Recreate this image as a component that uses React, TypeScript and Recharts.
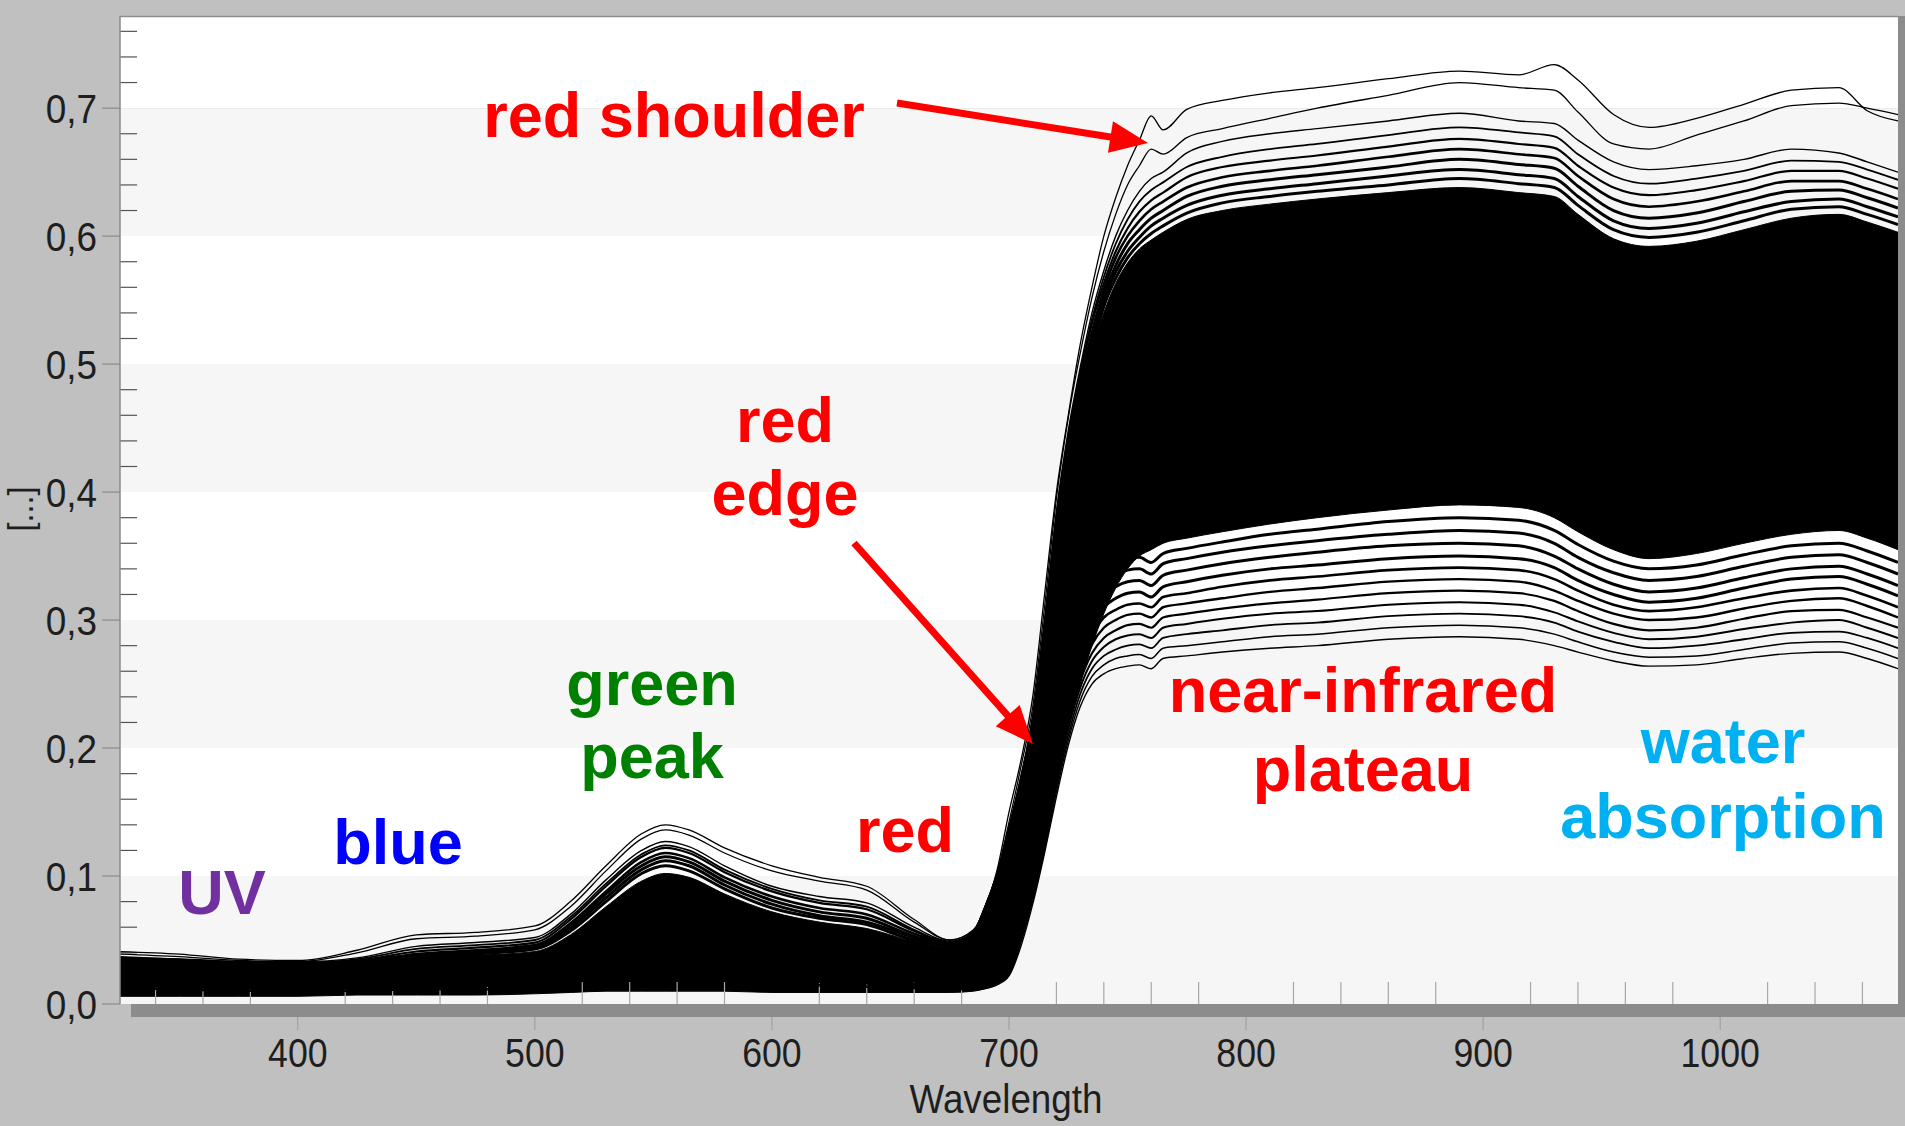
import React from 'react';
import { ComposedChart, Area, Line, XAxis, YAxis, ReferenceArea, ReferenceLine } from 'recharts';

// Wavelength grid (nm)
const wavelengths = [325, 350, 375, 400, 425, 450, 475, 500, 515, 530, 545, 555, 565, 580, 600, 620, 640, 660, 675, 685, 690, 695, 700, 705, 710, 715, 720, 725, 730, 735, 740, 745, 750, 755, 760, 765, 775, 790, 810, 830, 860, 890, 915, 930, 940, 955, 970, 990, 1010, 1030, 1050, 1062, 1075];

// Dense core of the spectra cloud (lower / upper bound)
const coreLow = [0.006, 0.006, 0.006, 0.006, 0.007, 0.007, 0.007, 0.008, 0.009, 0.010, 0.010, 0.010, 0.010, 0.010, 0.009, 0.009, 0.009, 0.009, 0.009,
  0.010, 0.012, 0.016, 0.025, 0.055, 0.088, 0.13, 0.175, 0.215, 0.25, 0.28, 0.305, 0.325, 0.34, 0.35, 0.355,
  0.36, 0.364, 0.369, 0.375, 0.38, 0.386, 0.39, 0.388, 0.38, 0.369, 0.355, 0.348, 0.352, 0.36, 0.367, 0.37, 0.364, 0.355];
const coreHigh = [0.033, 0.032, 0.030, 0.030, 0.032, 0.036, 0.038, 0.041, 0.054, 0.076, 0.096, 0.102, 0.099, 0.086, 0.072, 0.064, 0.059, 0.049, 0.045,
  0.055, 0.075, 0.10, 0.13, 0.165, 0.21, 0.275, 0.35, 0.42, 0.47, 0.51, 0.54, 0.563, 0.579, 0.59, 0.597,
  0.603, 0.613, 0.62, 0.625, 0.629, 0.634, 0.638, 0.634, 0.631, 0.617, 0.598, 0.592, 0.596, 0.605, 0.614, 0.617, 0.611, 0.603];

// Individual spectra above the core (brightest first)
const spectrumU1 = [0.041, 0.039, 0.035, 0.034, 0.042, 0.054, 0.056, 0.061, 0.080, 0.108, 0.133, 0.140, 0.136, 0.122, 0.108, 0.099, 0.092, 0.066, 0.050,
  0.058, 0.075, 0.105, 0.15, 0.19, 0.24, 0.32, 0.40, 0.46, 0.515, 0.56, 0.60, 0.63, 0.655, 0.675, 0.694,
  0.683, 0.699, 0.706, 0.712, 0.716, 0.723, 0.729, 0.726, 0.734, 0.722, 0.695, 0.685, 0.692, 0.703, 0.714, 0.716, 0.698, 0.69];
const spectrumU2 = [0.039, 0.037, 0.034, 0.033, 0.040, 0.051, 0.053, 0.058, 0.076, 0.104, 0.129, 0.136, 0.132, 0.118, 0.104, 0.096, 0.089, 0.064, 0.050,
  0.057, 0.074, 0.103, 0.142, 0.185, 0.232, 0.31, 0.395, 0.458, 0.508, 0.552, 0.588, 0.617, 0.64, 0.655, 0.668,
  0.664, 0.677, 0.684, 0.692, 0.70, 0.71, 0.72, 0.716, 0.714, 0.697, 0.672, 0.668, 0.679, 0.69, 0.702, 0.704, 0.70, 0.695];
const spectrumU3 = [0.037, 0.035, 0.033, 0.033, 0.036, 0.045, 0.048, 0.052, 0.070, 0.097, 0.120, 0.127, 0.123, 0.108, 0.092, 0.084, 0.079, 0.060, 0.049,
  0.056, 0.073, 0.10, 0.138, 0.178, 0.225, 0.30, 0.385, 0.448, 0.497, 0.54, 0.573, 0.60, 0.62, 0.635, 0.645,
  0.65, 0.665, 0.674, 0.68, 0.684, 0.69, 0.696, 0.69, 0.688, 0.675, 0.658, 0.652, 0.655, 0.66, 0.668, 0.665, 0.658, 0.65];
const spectrumU4 = [0.036, 0.035, 0.033, 0.032, 0.035, 0.043, 0.046, 0.050, 0.068, 0.094, 0.117, 0.124, 0.120, 0.105, 0.090, 0.081, 0.076, 0.058, 0.048,
  0.056, 0.074, 0.10, 0.137, 0.176, 0.223, 0.297, 0.381, 0.444, 0.493, 0.535, 0.568, 0.594, 0.613, 0.627, 0.636,
  0.642, 0.654, 0.662, 0.668, 0.672, 0.679, 0.685, 0.681, 0.678, 0.664, 0.647, 0.641, 0.645, 0.651, 0.659, 0.658, 0.652, 0.644];
const spectrumU5 = [0.036, 0.034, 0.032, 0.032, 0.034, 0.041, 0.044, 0.048, 0.066, 0.092, 0.115, 0.122, 0.118, 0.103, 0.088, 0.079, 0.074, 0.057, 0.048,
  0.056, 0.074, 0.10, 0.136, 0.175, 0.222, 0.295, 0.378, 0.44, 0.49, 0.532, 0.563, 0.588, 0.606, 0.619, 0.628,
  0.634, 0.646, 0.654, 0.659, 0.663, 0.67, 0.676, 0.672, 0.669, 0.655, 0.638, 0.632, 0.636, 0.643, 0.651, 0.651, 0.645, 0.637];
const spectrumU6 = [0.035, 0.034, 0.032, 0.031, 0.033, 0.039, 0.042, 0.046, 0.063, 0.088, 0.111, 0.118, 0.114, 0.099, 0.084, 0.075, 0.070, 0.055, 0.047,
  0.056, 0.075, 0.10, 0.134, 0.172, 0.218, 0.29, 0.37, 0.434, 0.484, 0.525, 0.558, 0.583, 0.60, 0.612, 0.621,
  0.627, 0.638, 0.646, 0.651, 0.655, 0.662, 0.668, 0.664, 0.661, 0.647, 0.629, 0.623, 0.627, 0.635, 0.643, 0.643, 0.637, 0.629];
const spectrumU7 = [0.035, 0.033, 0.031, 0.031, 0.033, 0.038, 0.041, 0.045, 0.061, 0.086, 0.108, 0.115, 0.111, 0.096, 0.081, 0.072, 0.067, 0.053, 0.046,
  0.055, 0.075, 0.10, 0.132, 0.17, 0.215, 0.285, 0.362, 0.428, 0.478, 0.518, 0.553, 0.577, 0.594, 0.605, 0.614,
  0.62, 0.631, 0.639, 0.644, 0.648, 0.654, 0.66, 0.656, 0.653, 0.639, 0.62, 0.614, 0.618, 0.627, 0.635, 0.636, 0.63, 0.622];
const spectrumU8 = [0.034, 0.033, 0.031, 0.030, 0.032, 0.037, 0.040, 0.044, 0.059, 0.083, 0.105, 0.112, 0.108, 0.093, 0.078, 0.069, 0.064, 0.052, 0.046,
  0.055, 0.075, 0.10, 0.131, 0.168, 0.213, 0.28, 0.356, 0.424, 0.474, 0.514, 0.549, 0.572, 0.588, 0.599, 0.608,
  0.614, 0.624, 0.632, 0.637, 0.641, 0.647, 0.652, 0.648, 0.645, 0.631, 0.612, 0.606, 0.61, 0.619, 0.627, 0.629, 0.623, 0.615];
const spectrumU9 = [0.034, 0.032, 0.030, 0.030, 0.032, 0.036, 0.039, 0.043, 0.057, 0.080, 0.102, 0.108, 0.104, 0.090, 0.075, 0.067, 0.062, 0.050, 0.046,
  0.055, 0.075, 0.10, 0.13, 0.166, 0.211, 0.277, 0.352, 0.421, 0.471, 0.511, 0.545, 0.567, 0.583, 0.594, 0.602,
  0.608, 0.618, 0.626, 0.631, 0.635, 0.64, 0.645, 0.641, 0.638, 0.624, 0.605, 0.599, 0.603, 0.612, 0.621, 0.623, 0.617, 0.609];

// Individual spectra below the core (darkest first)
const spectrumL1 = [0.012, 0.011, 0.010, 0.010, 0.010, 0.011, 0.011, 0.012, 0.016, 0.021, 0.024, 0.025, 0.024, 0.020, 0.016, 0.014, 0.013, 0.012, 0.011,
  0.011, 0.012, 0.015, 0.022, 0.045, 0.078, 0.118, 0.162, 0.202, 0.232, 0.25, 0.258, 0.262, 0.264, 0.265, 0.262,
  0.27, 0.272, 0.275, 0.278, 0.28, 0.285, 0.287, 0.285, 0.28, 0.275, 0.268, 0.264, 0.265, 0.27, 0.274, 0.275, 0.27, 0.262];
const spectrumL2 = [0.013, 0.012, 0.011, 0.011, 0.011, 0.012, 0.012, 0.013, 0.017, 0.023, 0.027, 0.029, 0.027, 0.023, 0.018, 0.015, 0.014, 0.013, 0.012,
  0.012, 0.013, 0.016, 0.023, 0.048, 0.081, 0.121, 0.166, 0.206, 0.237, 0.256, 0.265, 0.27, 0.272, 0.273, 0.27,
  0.278, 0.28, 0.283, 0.287, 0.289, 0.294, 0.296, 0.294, 0.289, 0.283, 0.275, 0.271, 0.272, 0.277, 0.282, 0.283, 0.278, 0.27];
const spectrumL3 = [0.014, 0.013, 0.012, 0.012, 0.012, 0.013, 0.014, 0.015, 0.019, 0.026, 0.031, 0.033, 0.031, 0.026, 0.020, 0.017, 0.016, 0.014, 0.013,
  0.013, 0.014, 0.017, 0.024, 0.05, 0.084, 0.125, 0.17, 0.21, 0.242, 0.262, 0.272, 0.277, 0.28, 0.281, 0.278,
  0.286, 0.289, 0.292, 0.296, 0.298, 0.303, 0.305, 0.303, 0.298, 0.291, 0.283, 0.278, 0.28, 0.285, 0.29, 0.291, 0.286, 0.278];
const spectrumL4 = [0.015, 0.014, 0.013, 0.013, 0.013, 0.014, 0.015, 0.016, 0.021, 0.029, 0.035, 0.037, 0.035, 0.029, 0.022, 0.019, 0.017, 0.015, 0.014,
  0.014, 0.015, 0.018, 0.025, 0.052, 0.087, 0.128, 0.174, 0.215, 0.247, 0.268, 0.279, 0.285, 0.288, 0.289, 0.286,
  0.294, 0.297, 0.301, 0.305, 0.307, 0.312, 0.314, 0.312, 0.306, 0.299, 0.29, 0.285, 0.287, 0.293, 0.298, 0.30, 0.294, 0.286];
const spectrumL5 = [0.016, 0.015, 0.014, 0.014, 0.014, 0.015, 0.016, 0.017, 0.023, 0.032, 0.039, 0.041, 0.039, 0.032, 0.025, 0.021, 0.019, 0.016, 0.015,
  0.015, 0.016, 0.019, 0.026, 0.054, 0.09, 0.132, 0.178, 0.22, 0.252, 0.274, 0.286, 0.292, 0.296, 0.297, 0.294,
  0.302, 0.305, 0.309, 0.313, 0.316, 0.321, 0.323, 0.321, 0.315, 0.307, 0.297, 0.292, 0.294, 0.301, 0.307, 0.308, 0.302, 0.294];
const spectrumL6 = [0.017, 0.016, 0.015, 0.015, 0.015, 0.016, 0.017, 0.018, 0.025, 0.035, 0.043, 0.045, 0.043, 0.035, 0.027, 0.023, 0.021, 0.018, 0.016,
  0.016, 0.017, 0.02, 0.027, 0.056, 0.093, 0.136, 0.182, 0.225, 0.258, 0.281, 0.294, 0.30, 0.304, 0.305, 0.302,
  0.31, 0.313, 0.317, 0.322, 0.325, 0.33, 0.332, 0.33, 0.323, 0.315, 0.305, 0.30, 0.302, 0.309, 0.315, 0.317, 0.311, 0.302];
const spectrumL7 = [0.018, 0.017, 0.016, 0.016, 0.016, 0.018, 0.019, 0.020, 0.027, 0.038, 0.047, 0.049, 0.047, 0.038, 0.030, 0.025, 0.022, 0.019, 0.017,
  0.017, 0.018, 0.021, 0.028, 0.058, 0.096, 0.14, 0.186, 0.23, 0.264, 0.288, 0.302, 0.308, 0.312, 0.313, 0.31,
  0.318, 0.321, 0.326, 0.331, 0.334, 0.339, 0.341, 0.339, 0.332, 0.323, 0.312, 0.307, 0.31, 0.317, 0.323, 0.325, 0.319, 0.31];
const spectrumL8 = [0.019, 0.018, 0.017, 0.017, 0.017, 0.019, 0.020, 0.021, 0.029, 0.041, 0.051, 0.054, 0.051, 0.042, 0.032, 0.027, 0.024, 0.020, 0.018,
  0.018, 0.019, 0.022, 0.029, 0.06, 0.099, 0.144, 0.191, 0.236, 0.27, 0.295, 0.31, 0.317, 0.321, 0.322, 0.318,
  0.326, 0.33, 0.335, 0.34, 0.343, 0.348, 0.35, 0.348, 0.341, 0.331, 0.32, 0.314, 0.317, 0.325, 0.332, 0.334, 0.328, 0.319];
const spectrumL9 = [0.020, 0.019, 0.018, 0.018, 0.019, 0.021, 0.022, 0.023, 0.031, 0.044, 0.055, 0.058, 0.055, 0.046, 0.035, 0.029, 0.026, 0.021, 0.019,
  0.019, 0.02, 0.023, 0.03, 0.063, 0.102, 0.148, 0.196, 0.242, 0.277, 0.303, 0.318, 0.326, 0.33, 0.331, 0.327,
  0.335, 0.339, 0.344, 0.349, 0.353, 0.358, 0.36, 0.358, 0.35, 0.34, 0.328, 0.322, 0.325, 0.333, 0.34, 0.342, 0.336, 0.327];
const spectrumL10 = [0.022, 0.021, 0.020, 0.020, 0.021, 0.023, 0.024, 0.026, 0.035, 0.050, 0.062, 0.065, 0.062, 0.052, 0.040, 0.033, 0.029, 0.023, 0.021,
  0.02, 0.021, 0.024, 0.032, 0.066, 0.106, 0.153, 0.202, 0.248, 0.284, 0.311, 0.327, 0.335, 0.339, 0.34, 0.336,
  0.344, 0.348, 0.353, 0.358, 0.362, 0.367, 0.37, 0.368, 0.36, 0.349, 0.337, 0.331, 0.334, 0.342, 0.349, 0.351, 0.345, 0.336];
const spectrumL11 = [0.024, 0.023, 0.022, 0.022, 0.023, 0.025, 0.027, 0.029, 0.039, 0.056, 0.070, 0.074, 0.070, 0.059, 0.046, 0.038, 0.033, 0.026, 0.023,
  0.021, 0.022, 0.025, 0.033, 0.069, 0.11, 0.158, 0.208, 0.255, 0.292, 0.319, 0.336, 0.344, 0.348, 0.349, 0.345,
  0.352, 0.356, 0.361, 0.367, 0.371, 0.377, 0.38, 0.378, 0.37, 0.359, 0.346, 0.34, 0.343, 0.351, 0.358, 0.36, 0.354, 0.345];

// Axis ticks
const xMajorTicks = [400, 500, 600, 700, 800, 900, 1000];
const xMinorTicks = [340, 360, 380, 420, 440, 460, 480, 520, 540, 560, 580, 620, 640, 660, 680, 720, 740, 760, 780, 820, 840, 860, 880, 920, 940, 960, 980, 1020, 1040, 1060];
const yMajorTicks = [0, 0.1, 0.2, 0.3, 0.4, 0.5, 0.6, 0.7];
const yMinorTicks = [0.02, 0.04, 0.06, 0.08, 0.12, 0.14, 0.16, 0.18, 0.22, 0.24, 0.26, 0.28, 0.32, 0.34, 0.36, 0.38, 0.42, 0.44, 0.46, 0.48, 0.52, 0.54, 0.56, 0.58, 0.62, 0.64, 0.66, 0.68, 0.72, 0.74, 0.76];
const shadedBands = [[0, 0.1], [0.2, 0.3], [0.4, 0.5], [0.6, 0.7]];

// [key, values, stroke width]
const spectra: [string, number[], number][] = [
  ['l11', spectrumL11, 3], ['l10', spectrumL10, 3], ['l9', spectrumL9, 3], ['l8', spectrumL8, 3], ['l7', spectrumL7, 2.6],
  ['l6', spectrumL6, 2.4], ['l5', spectrumL5, 2.2], ['l4', spectrumL4, 2], ['l3', spectrumL3, 1.8], ['l2', spectrumL2, 1.5], ['l1', spectrumL1, 1.4],
  ['u9', spectrumU9, 3], ['u8', spectrumU8, 3], ['u7', spectrumU7, 3], ['u6', spectrumU6, 2.6], ['u5', spectrumU5, 2.2],
  ['u4', spectrumU4, 1.8], ['u3', spectrumU3, 1.4], ['u2', spectrumU2, 1.3], ['u1', spectrumU1, 1.3],
];

const data = wavelengths.map((wl, i) => {
  const row: Record<string, number> = { wl, low: coreLow[i], high: coreHigh[i] };
  spectra.forEach(([k, arr]) => { row[k] = arr[i]; });
  return row;
});

const X_DOMAIN: [number, number] = [325, 1075];
const Y_DOMAIN: [number, number] = [0, 0.772];
const AXIS_FONT = "'Liberation Sans', Arial, sans-serif";
const NOTE_FONT = "'Liberation Sans', Arial, sans-serif";
const AXIS_COLOR = '#1e1e1e';

function XTick(props: any) {
  const { x, y, payload } = props;
  return (
    <text transform={`translate(${x},${y}) scale(0.87,1)`} textAnchor="middle" dy="0.71em" fontFamily={AXIS_FONT} fontSize={41} fill={AXIS_COLOR}>
      {payload.value}
    </text>
  );
}

function YTick(props: any) {
  const { x, y, payload } = props;
  const label = Number(payload.value).toFixed(1).replace('.', ',');
  return (
    <text transform={`translate(${x},${y}) scale(0.9,1)`} textAnchor="end" dy="0.355em" fontFamily={AXIS_FONT} fontSize={41} fill={AXIS_COLOR}>
      {label}
    </text>
  );
}

function arrowPoints(x1: number, y1: number, x2: number, y2: number, shaft = 7, headLen = 38, headW = 16) {
  const dx = x2 - x1, dy = y2 - y1;
  const L = Math.hypot(dx, dy);
  const ux = dx / L, uy = dy / L;
  const nx = -uy, ny = ux;
  const bx = x2 - ux * headLen, by = y2 - uy * headLen;
  const s = shaft / 2;
  const pts = [
    [x1 + nx * s, y1 + ny * s],
    [bx + nx * s, by + ny * s],
    [bx + nx * headW, by + ny * headW],
    [x2, y2],
    [bx - nx * headW, by - ny * headW],
    [bx - nx * s, by - ny * s],
    [x1 - nx * s, y1 - ny * s],
  ];
  return pts.map((p) => p.join(',')).join(' ');
}

const notes = [
  { text: 'red shoulder', x: 674, y: 137, color: '#ff0000' },
  { text: 'red', x: 785, y: 442, color: '#ff0000' },
  { text: 'edge', x: 785, y: 515, color: '#ff0000' },
  { text: 'green', x: 652, y: 705, color: '#008000' },
  { text: 'peak', x: 652, y: 778, color: '#008000' },
  { text: 'red', x: 905, y: 852, color: '#ff0000' },
  { text: 'blue', x: 398, y: 864, color: '#0000ff' },
  { text: 'UV', x: 222, y: 914, color: '#7030a0' },
  { text: 'near-infrared', x: 1363, y: 712, color: '#ff0000' },
  { text: 'plateau', x: 1363, y: 791, color: '#ff0000' },
  { text: 'water', x: 1723, y: 763, color: '#00b0f0' },
  { text: 'absorption', x: 1723, y: 838, color: '#00b0f0' },
];

export default function App() {
  return (
    <div style={{ position: 'fixed', left: 0, top: 0, width: 1905, height: 1126, background: '#c0c0c0', overflow: 'hidden' }}>
      <ComposedChart
        width={1905}
        height={1126}
        data={data}
        margin={{ top: 16, right: 7, bottom: 0, left: 0 }}
      >
        <XAxis
          dataKey="wl"
          type="number"
          domain={X_DOMAIN}
          ticks={xMajorTicks}
          allowDataOverflow
          height={122}
          tickSize={26}
          tickMargin={8}
          axisLine={false}
          tickLine={{ stroke: '#9a9a9a', strokeWidth: 1 }}
          tick={<XTick />}
        />
        <YAxis
          type="number"
          domain={Y_DOMAIN}
          ticks={yMajorTicks}
          allowDataOverflow
          width={120}
          tickSize={18}
          tickMargin={5}
          axisLine={{ stroke: '#8a8a8a', strokeWidth: 1.5 }}
          tickLine={{ stroke: '#808080', strokeWidth: 1 }}
          tick={<YTick />}
        />
        <ReferenceArea x1={325} x2={1075} y1={0.7} y2={0.772} fill="#ffffff" fillOpacity={1} stroke="none" ifOverflow="visible" />
        {shadedBands.map(([a, b]) => (
          <ReferenceArea key={`band-${a}`} x1={325} x2={1075} y1={a} y2={b} fill="#f6f6f6" fillOpacity={1} stroke="none" ifOverflow="visible" />
        ))}
        {[[0.1, 0.2], [0.3, 0.4], [0.5, 0.6]].map(([a, b]) => (
          <ReferenceArea key={`wband-${a}`} x1={325} x2={1075} y1={a} y2={b} fill="#ffffff" fillOpacity={1} stroke="none" ifOverflow="visible" />
        ))}
        {xMinorTicks.map((t) => (
          <ReferenceLine key={`xm-${t}`} segment={[{ x: t, y: 0 }, { x: t, y: 0.0172 }]} stroke="#a8a8a8" strokeWidth={1.2} ifOverflow="visible" />
        ))}
        {yMinorTicks.map((t) => (
          <ReferenceLine key={`ym-${t}`} segment={[{ x: 325, y: t }, { x: 332.2, y: t }]} stroke="#555555" strokeWidth={1.2} ifOverflow="visible" />
        ))}
        <Area
          dataKey={(d: any) => [d.low, d.high]}
          type="monotone"
          stroke="#000"
          strokeWidth={1}
          fill="#000"
          fillOpacity={1}
          dot={false}
          activeDot={false}
          isAnimationActive={false}
        />
        {spectra.map(([k, , w]) => (
          <Line
            key={k}
            dataKey={k}
            type="monotone"
            stroke="#000"
            strokeWidth={w}
            dot={false}
            activeDot={false}
            isAnimationActive={false}
          />
        ))}
      </ComposedChart>
      <svg width={1905} height={1126} style={{ position: 'absolute', left: 0, top: 0, pointerEvents: 'none' }}>
        <line x1={120} y1={16.5} x2={1898} y2={16.5} stroke="#8c8c8c" strokeWidth={1.5} />
        <rect x={1898} y={16} width={7} height={1001} fill="#8c8c8c" />
        <rect x={131} y={1004} width={1774} height={13} fill="#8c8c8c" />
        <text transform="translate(1006,1113) scale(0.92,1)" textAnchor="middle" fontFamily={AXIS_FONT} fontSize={40} fill={AXIS_COLOR}>Wavelength</text>
        <text transform="translate(33,509) rotate(-90) scale(0.9,1)" textAnchor="middle" fontFamily={AXIS_FONT} fontSize={36} fill={AXIS_COLOR}>[...]</text>
        <polygon points={arrowPoints(897, 103, 1148, 143)} fill="#ff0000" />
        <polygon points={arrowPoints(854, 543, 1033, 744)} fill="#ff0000" />
        {notes.map((n, i) => (
          <text key={i} x={n.x} y={n.y} textAnchor="middle" fontFamily={NOTE_FONT} fontWeight="bold" fontSize={63} fill={n.color}>{n.text}</text>
        ))}
      </svg>
    </div>
  );
}
